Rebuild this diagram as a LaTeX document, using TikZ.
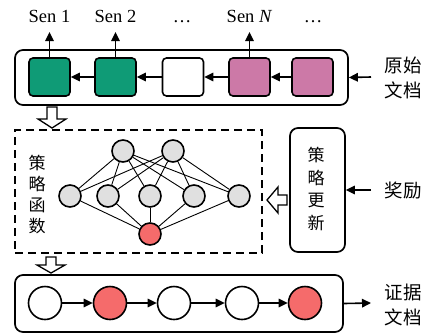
\documentclass[tikz,border=0pt]{standalone}
\usepackage{fontspec}
\setmainfont{Liberation Serif}
\newfontfamily\cjk{Noto Sans CJK SC}
\usetikzlibrary{arrows.meta}
\definecolor{cgreen}{HTML}{0F9B76}
\definecolor{cpink}{HTML}{CC79A7}
\definecolor{cred}{HTML}{F56B6B}
\definecolor{cgray}{HTML}{E0E0E0}
\tikzset{
  outerbox/.style={draw, line width=1.7pt, rounded corners=8pt, inner sep=0pt},
  sqbox/.style={draw, line width=1.6pt, rounded corners=4pt, minimum width=41pt, minimum height=38pt, inner sep=0pt},
  nnode/.style={draw, circle, line width=1.6pt, fill=cgray, minimum size=22pt, inner sep=0pt},
  seqnode/.style={draw, circle, line width=1.6pt, minimum size=33pt, inner sep=0pt},
  arr/.style={line width=1.6pt, -{Triangle[length=9pt,width=8.5pt]}},
  nnedge/.style={line width=0.9pt},
  hollow/.style={draw, line width=1.3pt, fill=white},
  lbl/.style={font=\fontsize{18.5}{20}\selectfont, anchor=base},
  cjklbl/.style={font=\cjk\fontsize{18.5}{25}\selectfont, align=center, inner sep=0pt},
}
\begin{document}
\begin{tikzpicture}[x=1pt, y=-1pt]
\useasboundingbox (0,0) rectangle (435,335);
% top box
\node[outerbox, minimum width=333pt, minimum height=55pt] (top) at (181.5,77.5) {};
\node[sqbox, fill=cgreen] (s1) at (49.5,77) {};
\node[sqbox, fill=cgreen] (s2) at (115.5,77) {};
\node[sqbox, fill=white] (s3) at (183,77) {};
\node[sqbox, fill=cpink] (s4) at (249.5,77) {};
\node[sqbox, fill=cpink] (s5) at (312.5,77) {};
\draw[arr] (s5) -- (s4);
\draw[arr] (s4) -- (s3);
\draw[arr] (s3) -- (s2);
\draw[arr] (s2) -- (s1);
\coordinate (u1) at (49.5,32);
\coordinate (u2) at (115.5,32);
\coordinate (u4) at (249.5,32);
\draw[arr] (s1.north) -- (u1);
\draw[arr] (s2.north) -- (u2);
\draw[arr] (s4.north) -- (u4);
\node[lbl] (l1) at (49.5,22) {Sen 1};
\node[lbl] (l2) at (115.5,22) {Sen 2};
\node[lbl] (l3) at (182,22) {…};
\node[lbl] (l4) at (249.5,22) {Sen \textit{N}};
\node[lbl] (l5) at (313,22) {…};
\coordinate (in1) at (371,77);
\draw[arr] (in1) -- (top.east);
\node[cjklbl] (t1) at (403,78) {原始\\文档};
% hollow down arrow 1
\draw[hollow] (47,107) -- (57,107) -- (57,119) -- (66,119) -- (52,128) -- (38,119) -- (47,119) -- cycle;
% dashed box
\node[draw, dashed, dash pattern=on 8pt off 5pt, line width=1.7pt, minimum width=247pt, minimum height=123pt, inner sep=0pt] (dbox) at (138.5,191.5) {};
\node[cjklbl, font=\cjk\fontsize{17}{21}\selectfont] (pf) at (37,195) {策\\略\\函\\数};
% neural net
\node[nnode] (a1) at (123,151) {};
\node[nnode] (a2) at (173,151) {};
\node[nnode] (m1) at (70,196) {};
\node[nnode] (m2) at (108,196) {};
\node[nnode] (m3) at (150,196) {};
\node[nnode] (m4) at (194,196) {};
\node[nnode] (m5) at (239,196) {};
\node[nnode, fill=cred] (o) at (150,234) {};
\foreach \a in {a1,a2}{\foreach \m in {m1,m2,m3,m4,m5}{\draw[nnedge] (\a) -- (\m);}}
\foreach \m in {m1,m2,m3,m4,m5}{\draw[nnedge] (\m) -- (o);}
% update box
\node[outerbox, minimum width=55pt, minimum height=124pt] (upd) at (317.5,190) {};
\node[cjklbl, font=\cjk\fontsize{17}{22.5}\selectfont] (updt) at (316,189) {策\\略\\更\\新};
\draw[hollow] (287,195) -- (287,205) -- (278,205) -- (278,213) -- (267,200) -- (278,187) -- (278,195) -- cycle;
\coordinate (in2) at (371,190);
\draw[arr] (in2) -- (upd.east);
\node[cjklbl] (rw) at (403,190) {奖励};
% hollow down arrow 2
\draw[hollow] (46,257) -- (56,257) -- (56,265) -- (65,265) -- (51,273) -- (37,265) -- (46,265) -- cycle;
% bottom box
\node[outerbox, minimum width=328pt, minimum height=57pt] (bot) at (179,303.5) {};
\node[seqnode, fill=white] (c1) at (45,303) {};
\node[seqnode, fill=cred] (c2) at (110,303) {};
\node[seqnode, fill=white] (c3) at (174,303) {};
\node[seqnode, fill=white] (c4) at (242,303) {};
\node[seqnode, fill=cred] (c5) at (305,303) {};
\draw[arr] (c1) -- (c2);
\draw[arr] (c2) -- (c3);
\draw[arr] (c3) -- (c4);
\draw[arr] (c4) -- (c5);
\coordinate (out) at (371,303);
\draw[arr] (bot.east) -- (out);
\node[cjklbl] (ev) at (403,305) {证据\\文档};
\end{tikzpicture}
\end{document}
